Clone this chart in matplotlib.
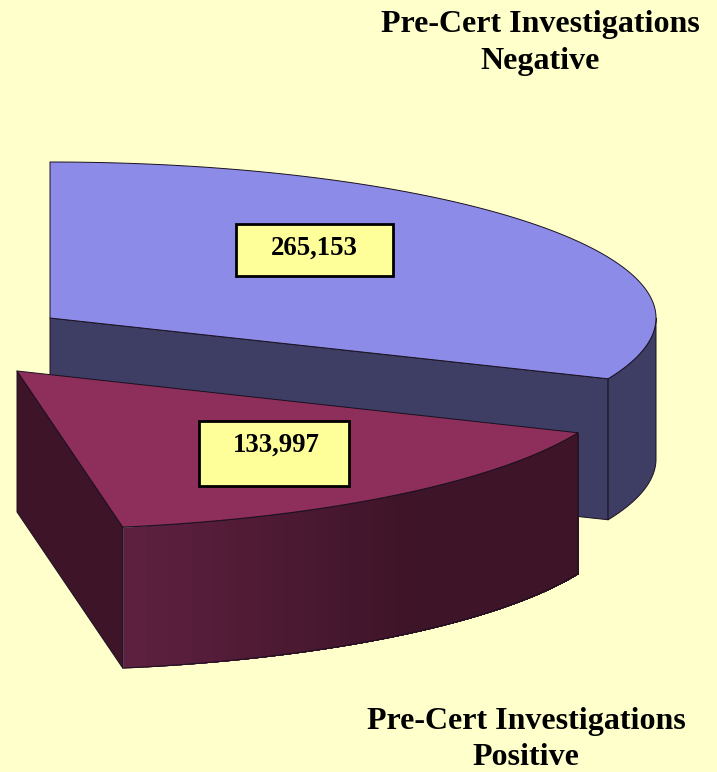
# 3D style pie - Pre-Cert Investigations
import numpy as np
import matplotlib
matplotlib.use("Agg")
import matplotlib.pyplot as plt
from matplotlib.patches import Polygon, Rectangle

labels = ["Pre-Cert Investigations\nNegative", "Pre-Cert Investigations\nPositive"]
values = [265153, 133997]
value_labels = ["265,153", "133,997"]

BG = "#FFFFCC"
BOX = "#FFFF99"
EDGE = "#1a1020"

# pie geometry in pixels
radii = [(606.0, 156.0), (609.0, 158.5)]
depth = 141.0
start_angle = 90.0
total_sweep = 170.0   # the picture only shows this part of the ellipse
centers = [(50.0, 318.0), (17.0, 371.0)]

sweeps = [total_sweep * v / sum(values) for v in values]
t0 = start_angle
angles = []
for s in sweeps:
    angles.append((t0, t0 - s))
    t0 -= s


def arc(center, r, t1, t2, n=200):
    t = np.radians(np.linspace(t1, t2, n))
    return center[0] + r[0] * np.cos(t), center[1] - r[1] * np.sin(t)


def poly(ax, x, y, color, z, lw=0.7):
    ax.add_patch(Polygon(np.column_stack([x, y]), closed=True, facecolor=color,
                         edgecolor=EDGE, linewidth=lw, joinstyle="round", zorder=z))


fig = plt.figure(figsize=(7.17, 7.72), dpi=100, facecolor=BG)
ax = fig.add_axes([0, 0, 1, 1])
ax.set_xlim(0, 717)
ax.set_ylim(772, 0)
ax.axis("off")

# negative slice
c = centers[0]
x, y = arc(c, radii[0], *angles[0])
end = (x[-1], y[-1])
poly(ax, [c[0], end[0], end[0], c[0]], [c[1], end[1], end[1] + depth, c[1] + depth], "#3E3E64", 1)
sx, sy = arc(c, radii[0], 0, angles[0][1], 60)
poly(ax, np.r_[sx, sx[::-1]], np.r_[sy, sy[::-1] + depth], "#3E3E64", 1)
poly(ax, np.r_[c[0], x], np.r_[c[1], y], "#8C8CE8", 2)

# positive slice
c = centers[1]
x, y = arc(c, radii[1], *angles[1])
poly(ax, [c[0], x[-1], x[-1], c[0]], [c[1], y[-1], y[-1] + depth, c[1] + depth], "#3E1428", 3)
# outer wall shaded from the front corner to the right
# each band runs to the right end and the next one paints over it, so no seams
n = 40
xs = np.linspace(x[-1], x[0], n + 1)
ys = np.interp(xs, x[::-1], y[::-1])
c1 = np.array(matplotlib.colors.to_rgb("#5E2040"))
c2 = np.array(matplotlib.colors.to_rgb("#3E1428"))
for i in range(n):
    f = min(i / (n * 0.62), 1.0)
    ax.fill_between(xs[i:], ys[i:], ys[i:] + depth, color=c1 + (c2 - c1) * f,
                    linewidth=0, zorder=3)
poly(ax, np.r_[x, x[::-1]], np.r_[y, y[::-1] + depth], "none", 3.5)
poly(ax, np.r_[c[0], x], np.r_[c[1], y], "#8E2E5A", 4)

# value boxes
serif = "Liberation Serif"
box_rects = [(236, 224, 157, 52), (199, 421, 150, 65)]
text_pos = [(314, 248), (276, 445)]
for rect, pos, lab in zip(box_rects, text_pos, value_labels):
    ax.add_patch(Rectangle(rect[:2], rect[2], rect[3], facecolor=BOX, edgecolor="black",
                           linewidth=2, zorder=5))
    ax.text(pos[0], pos[1], lab, family=serif, weight="bold", fontsize=19.3, color="black",
            ha="center", va="center", zorder=6)

# slice names
title_pos = [(540, 43), (526, 739.5)]
for pos, lab in zip(title_pos, labels):
    ax.text(pos[0], pos[1], lab, family=serif, weight="bold", fontsize=23, color="black",
            ha="center", va="center", linespacing=1.33, zorder=6)

plt.savefig("out.png", dpi=100, facecolor=BG)
